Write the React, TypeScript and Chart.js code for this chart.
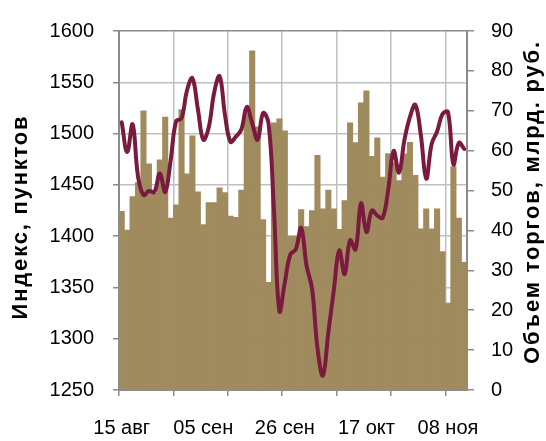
import { useEffect, useRef } from "react";
import { Chart, registerables } from "chart.js";

Chart.register(...registerables);

// Tick labels shown every LABEL_STEP trading days
const xTickLabels = ["15 авг", "05 сен", "26 сен", "17 окт", "08 ноя"];
const LABEL_STEP = 15;
const GRID_STEP = 10;

// Trading volume, bn RUB (right axis)
const volume = [
  44.8, 40.1, 48.5, 52, 70, 56.7, 49.3, 57.7, 68.4, 43.1,
  46.4, 70.3, 54.2, 63.7, 49.7, 41.5, 47, 47, 50.7, 49.5,
  43.6, 43.3, 50.1, 69.5, 85, 66, 42.7, 27, 67, 68,
  65, 38.5, 38.5, 45.2, 41, 45, 58.8, 45.4, 50.1, 45.4,
  40.3, 47.5, 67, 62, 72, 75, 58.6, 63.2, 53.4, 59.3,
  57, 52.5, 59.2, 62.1, 53.8, 40.4, 45.4, 40.4, 45.4, 34.7,
  21.8, 56, 43.1, 32,
];

// Index, points (left axis)
const indexValues = [
  1511, 1482, 1509, 1458, 1440, 1444, 1443, 1461, 1443, 1474,
  1512, 1515, 1542, 1554, 1524, 1494, 1506, 1540, 1556, 1518,
  1492, 1497, 1504, 1526, 1510, 1494, 1520, 1510, 1425, 1327,
  1355, 1382, 1387, 1408, 1371, 1349, 1291, 1264, 1306, 1347,
  1386, 1363, 1396, 1387, 1432, 1404, 1425, 1420, 1418, 1445,
  1483, 1462, 1494, 1516, 1528, 1499, 1456, 1490, 1502, 1519,
  1521, 1470, 1491, 1485,
];

const leftTitle = "Индекс, пунктов";
const rightTitle = "Объем торгов, млрд. руб.";

const categories = volume.map((_, i) =>
  i % LABEL_STEP === 0 ? xTickLabels[i / LABEL_STEP] ?? "" : ""
);

const FONT_FAMILY = '"Liberation Sans", Arial, sans-serif';
const BAR_COLOR = "#A08B5E";
const LINE_COLOR = "#7B1A3F";
const AXIS_COLOR = "#8C8C8C";
const GRID_COLOR = "#C0C0C0";

function drawVerticalTitle(c: CanvasRenderingContext2D, text: string, x: number, y: number) {
  c.save();
  c.font = `bold 22px ${FONT_FAMILY}`;
  (c as any).letterSpacing = "1.8px";
  c.fillStyle = "#000";
  c.textAlign = "center";
  c.textBaseline = "middle";
  c.translate(x, y);
  c.rotate(-Math.PI / 2);
  c.fillText(text, 0, 0);
  c.restore();
}

const titlePlugin = {
  id: "axisTitles",
  afterDraw(chart: any) {
    const c = chart.ctx as CanvasRenderingContext2D;
    drawVerticalTitle(c, leftTitle, 21, 217);
    drawVerticalTitle(c, rightTitle, 533, 202);
  },
};

export default function App() {
  const ref = useRef<HTMLCanvasElement | null>(null);
  useEffect(() => {
    if (!ref.current) return;
    const font = { family: FONT_FAMILY, size: 20 };
    const chart = new Chart(ref.current, {
      type: "bar",
      data: {
        labels: categories,
        datasets: [
          {
            type: "line",
            label: "Индекс",
            data: indexValues,
            yAxisID: "yL",
            borderColor: LINE_COLOR,
            borderWidth: 4,
            pointRadius: 0,
            tension: 0.4,
            borderCapStyle: "round",
            borderJoinStyle: "round",
            order: 0,
          } as any,
          {
            type: "bar",
            label: "Объем",
            data: volume,
            yAxisID: "yR",
            backgroundColor: BAR_COLOR,
            borderWidth: 0,
            barPercentage: 1,
            categoryPercentage: 1,
            order: 1,
          },
        ],
      },
      options: {
        animation: false,
        responsive: false,
        maintainAspectRatio: false,
        layout: { padding: { top: 25, left: 0, right: 0, bottom: 0 } },
        plugins: { legend: { display: false }, tooltip: { enabled: false } },
        scales: {
          x: {
            type: "category",
            offset: true,
            grid: {
              offset: true,
              color: (ctx: any) =>
                ctx.index % GRID_STEP === 0 ? GRID_COLOR : "rgba(0,0,0,0)",
              tickColor: (ctx: any) =>
                ctx.index % GRID_STEP === 0 ? AXIS_COLOR : "rgba(0,0,0,0)",
              lineWidth: 1.5,
              tickLength: 6,
            },
            border: { color: AXIS_COLOR, width: 2 },
            ticks: {
              autoSkip: false,
              maxRotation: 0,
              minRotation: 0,
              padding: 20,
              font,
              color: "#000",
            },
            afterFit: (s: any) => {
              s.height = 51;
            },
          },
          yL: {
            position: "left",
            min: 1250,
            max: 1600,
            ticks: {
              stepSize: 50,
              padding: 19,
              font,
              color: "#000",
              callback: (v: any) => String(v),
            },
            grid: {
              color: (ctx: any) =>
                ctx.tick && ctx.tick.value === 1600 ? AXIS_COLOR : GRID_COLOR,
              tickColor: AXIS_COLOR,
              lineWidth: 1.5,
              tickLength: 6,
            },
            border: { color: AXIS_COLOR, width: 2 },
            afterFit: (s: any) => {
              s.width = 119;
            },
          },
          yR: {
            position: "right",
            min: 0,
            max: 90,
            ticks: {
              stepSize: 10,
              padding: 17,
              font,
              color: "#000",
              callback: (v: any) => String(v),
            },
            grid: {
              drawOnChartArea: false,
              tickColor: AXIS_COLOR,
              lineWidth: 1.5,
              tickLength: 7,
            },
            border: { color: AXIS_COLOR, width: 2 },
            afterFit: (s: any) => {
              s.width = 79;
            },
          },
        },
      },
      plugins: [titlePlugin],
    });
    return () => chart.destroy();
  }, []);
  return (
    <div style={{ position: "absolute", left: 0, top: 0, width: 546, height: 441, background: "#fff" }}>
      <canvas ref={ref} width={546} height={441} />
    </div>
  );
}
